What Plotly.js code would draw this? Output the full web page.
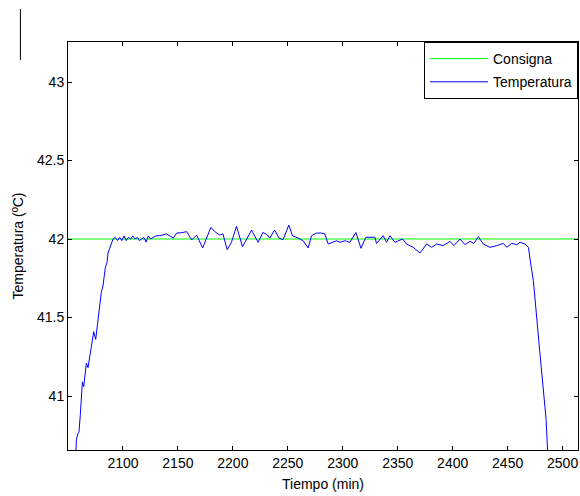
<!DOCTYPE html>
<html>
<head>
<meta charset="utf-8">
<script src="https://cdn.plot.ly/plotly-3.0.1.min.js"></script>
<style>html,body{margin:0;padding:0;background:#fff;}#chart{width:580px;height:496px;}</style>
</head>
<body>
<div id="chart"></div>
<script>
var consignaTime = [2050, 2514];
var consignaValue = [42, 42];

var tiempo = [
  2057.0, 2057.6, 2059.0, 2060.0, 2061.3, 2063.1, 2064.3, 2066.7, 2068.2, 2070.3,
  2071.8, 2073.4, 2075.2, 2076.7, 2078.8, 2080.3, 2081.8, 2084.0, 2085.5, 2086.4,
  2087.9, 2090.0, 2091, 2093, 2095, 2097, 2099, 2101, 2103, 2105,
  2107, 2109, 2111, 2113, 2115, 2117, 2119, 2121, 2123, 2125,
  2127, 2130, 2133.5, 2139.7, 2145.8, 2148.9, 2153, 2158, 2162.6, 2167,
  2172.5, 2176.2, 2180, 2183.6, 2188, 2191, 2194.8, 2198.7, 2203.3, 2208.8,
  2212.4, 2217, 2218, 2223, 2227.4, 2231, 2233.6, 2238, 2242, 2245.7,
  2250.9, 2254.2, 2259.4, 2263.9, 2268.5, 2271.6, 2276.1, 2280.7, 2283.7, 2286.7,
  2294.3, 2297.4, 2301.9, 2306.5, 2311.9, 2316.5, 2321, 2324.7, 2329.2, 2330.7,
  2336.8, 2339.8, 2342.9, 2347.4, 2350.4, 2354.4, 2358, 2364.1, 2370.2, 2376.3,
  2380.8, 2385.4, 2391.4, 2397.5, 2401.1, 2406.6, 2411.1, 2415.7, 2419.3, 2423.3,
  2427.8, 2433.9, 2440, 2446.1, 2449.2, 2453.7, 2458.3, 2461.3, 2465.8, 2468.9,
  2471, 2473.4, 2479, 2485, 2487
];
var temperatura = [
  40.60, 40.72, 40.76, 40.77, 40.89, 41.09, 41.06, 41.21, 41.18, 41.28,
  41.36, 41.41, 41.36, 41.44, 41.57, 41.66, 41.70, 41.82, 41.85, 41.91,
  41.94, 41.98, 42.00, 42.01, 41.99, 42.01, 41.99, 42.02, 41.99, 42.01,
  42.00, 42.02, 42.00, 42.01, 41.99, 42.00, 42.01, 41.98, 42.02, 42.00,
  42.01, 42.02, 42.021, 42.032, 42.006, 42.038, 42.040, 42.047, 41.994, 42.025,
  41.943, 42.011, 42.074, 42.047, 42.025, 42.032, 41.932, 41.979, 42.081, 41.951,
  41.994, 42.057, 42.042, 41.979, 42.042, 42.028, 42.006, 42.057, 42.006, 41.996,
  42.089, 42.021, 42.006, 41.989, 41.943, 42.021, 42.038, 42.038, 42.032, 41.968,
  41.989, 41.979, 41.989, 41.979, 42.042, 41.941, 42.011, 42.011, 42.011, 41.972,
  42.021, 41.979, 42.021, 41.979, 41.989, 42.000, 41.968, 41.947, 41.911, 41.968,
  41.947, 41.968, 41.958, 41.985, 41.958, 42.000, 41.964, 41.985, 41.972, 42.015,
  41.968, 41.947, 41.958, 41.972, 41.947, 41.972, 41.964, 41.979, 41.968, 41.947,
  41.84, 41.735, 41.30, 40.85, 40.55
];

var xTicks = [2100, 2150, 2200, 2250, 2300, 2350, 2400, 2450, 2500];
var yTicks = [41, 41.5, 42, 42.5, 43];
var yTickLabels = ['41', '41.5', '42', '42.5', '43'];

var font = {family: 'Liberation Sans, Arial, sans-serif', size: 14, color: '#000'};

var traces = [
  {x: consignaTime, y: consignaValue, type: 'scatter', mode: 'lines', name: 'Consigna',
   line: {color: '#00ff00', width: 1}, legendgroup: 'a'},
  {x: tiempo, y: temperatura, type: 'scatter', mode: 'lines', name: 'Temperatura',
   line: {color: '#0000ff', width: 1}, legendgroup: 'b'}
];

var layout = {
  width: 580, height: 496,
  margin: {l: 68, r: 2, t: 42, b: 46},
  paper_bgcolor: '#fff', plot_bgcolor: '#fff',
  font: font,
  showlegend: true,
  legend: {x: 1, xanchor: 'right', y: 1, yanchor: 'top', bgcolor: '#fff',
           bordercolor: '#000', borderwidth: 1, font: font,
           traceorder: 'grouped', tracegroupgap: 2, itemwidth: 58},
  xaxis: {range: [2050, 2514], tickvals: xTicks, ticks: 'inside', ticklen: 4,
          tickcolor: '#000', showline: true, linecolor: '#000', linewidth: 1,
          mirror: 'ticks', showgrid: false, zeroline: false, tickfont: font,
          title: {text: 'Tiempo (min)', font: font, standoff: 9}},
  yaxis: {range: [40.656, 43.255], tickvals: yTicks, ticktext: yTickLabels, ticks: 'inside',
          ticklen: 4, tickcolor: '#000', showline: true, linecolor: '#000', linewidth: 1,
          mirror: 'ticks', showgrid: false, zeroline: false, tickfont: font,
          title: {text: 'Temperatura (ºC)', font: font, standoff: 10}},
  shapes: [
    {type: 'line', xref: 'paper', yref: 'paper', x0: -0.0933, x1: -0.0933, y0: 0.956, y1: 1.081,
     line: {color: '#000', width: 1}}
  ]
};

Plotly.newPlot('chart', traces, layout, {displayModeBar: false, staticPlot: true});
</script>
</body>
</html>
